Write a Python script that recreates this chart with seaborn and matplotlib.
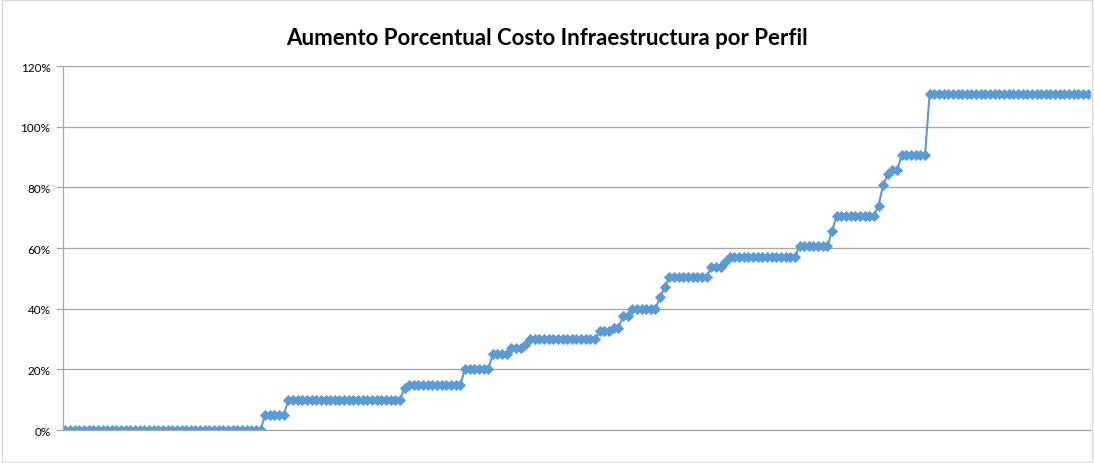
import matplotlib
matplotlib.use("Agg")
import matplotlib.pyplot as plt
import numpy as np
import pandas as pd
import seaborn as sns
from matplotlib.patches import Rectangle
from matplotlib.ticker import PercentFormatter

# ----------------------------
# Data: each level and how many profiles sit on it
# ----------------------------
levels = [0.0, 0.05, 0.10, 0.138, 0.15, 0.20, 0.25, 0.27, 0.28, 0.30,
          0.325, 0.335, 0.375, 0.40, 0.438, 0.47, 0.505, 0.537, 0.555, 0.57,
          0.606, 0.656, 0.706, 0.74, 0.808, 0.844, 0.857, 0.906, 1.107]
counts = [43, 5, 25, 1, 12, 6, 4, 3, 1, 15,
          3, 2, 2, 6, 1, 1, 9, 3, 1, 15,
          7, 1, 9, 1, 1, 1, 2, 6, 35]

title = "Aumento Porcentual Costo Infraestructura por Perfil"
y_ticks = [0, 0.2, 0.4, 0.6, 0.8, 1.0, 1.2]

values = np.repeat(levels, counts)
df = pd.DataFrame({"perfil": np.arange(len(values)), "aumento": values})

# ----------------------------
# Figure
# ----------------------------
sns.set_style("white")
plt.rcParams["font.family"] = ["Lato", "DejaVu Sans"]

fig = plt.figure(figsize=(10.94, 4.64), dpi=100)
ax = fig.add_axes([0.0576, 0.0711, 0.9387, 0.7845])

sns.lineplot(
    data=df, x="perfil", y="aumento", ax=ax,
    color="#5B9BD5", linewidth=1.5,
    marker="D", markersize=4.8, markeredgewidth=0.6,
    markeredgecolor="#5B9BD5",
)

ax.set_xlim(-0.5, len(values) - 0.5)
ax.set_ylim(0, 1.2)
ax.set_yticks(y_ticks)
ax.yaxis.set_major_formatter(PercentFormatter(1.0, decimals=0))
ax.set_xticks([])
ax.set_xlabel("")
ax.set_ylabel("")

ax.grid(axis="y", color="#A6A6A6", linewidth=0.9)
ax.set_axisbelow(True)
for side in ["top", "right"]:
    ax.spines[side].set_visible(False)
for side in ["left", "bottom"]:
    ax.spines[side].set_color("#A6A6A6")
    ax.spines[side].set_linewidth(0.9)

ax.tick_params(axis="y", left=True, length=5, width=0.9, color="#A6A6A6",
               labelsize=8.5, labelcolor="#000000", pad=4)

fig.text(0.5, 0.918, title, ha="center", va="center",
         fontsize=16, fontweight="bold", color="#000000")

fig.patches.append(Rectangle((0.0015, 0.002), 0.997, 0.996,
                             transform=fig.transFigure, fill=False,
                             edgecolor="#D9D9D9", linewidth=1.0))

plt.savefig("out.png", dpi=100)
